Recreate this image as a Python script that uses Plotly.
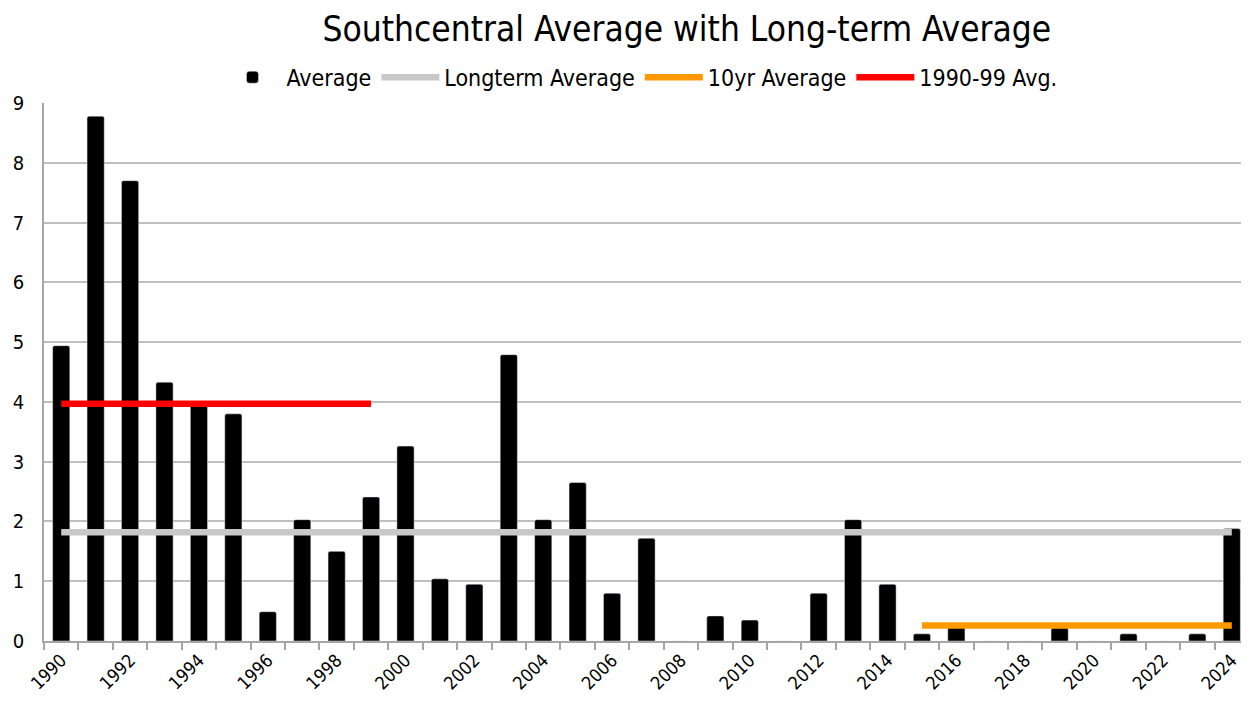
import plotly.graph_objects as go

YEARS = list(range(1990, 2025))
AVERAGE = [4.94, 8.78, 7.70, 4.33, 3.95, 3.80, 0.49, 2.03, 1.50, 2.41,
           3.26, 1.04, 0.95, 4.79, 2.03, 2.65, 0.80, 1.72, 0.0, 0.42,
           0.35, 0.0, 0.80, 2.03, 0.95, 0.12, 0.25, 0.0, 0.0, 0.22,
           0.0, 0.12, 0.0, 0.12, 1.88]
LONGTERM_AVG = 1.82
TENYR_YEARS = list(range(2015, 2025))
TENYR_AVG = 0.26
NINETIES_YEARS = list(range(1990, 2000))
NINETIES_AVG = 3.97
TICK_YEARS = list(range(1990, 2025, 2))

FONT = "Liberation Sans Narrow, DejaVu Sans Condensed, Roboto, sans-serif"

fig = go.Figure()
fig.add_trace(go.Bar(
    x=YEARS, y=AVERAGE,
    name="Average",
    width=0.5,
    marker=dict(color="black", cornerradius=2),
))
fig.add_trace(go.Scatter(
    x=YEARS, y=[LONGTERM_AVG] * len(YEARS),
    mode='lines',
    name="Longterm Average",
    line=dict(color="#c8c8c8", width=6.5),
))
fig.add_trace(go.Scatter(
    x=TENYR_YEARS, y=[TENYR_AVG] * len(TENYR_YEARS),
    mode='lines',
    name="10yr Average",
    line=dict(color="#ff9900", width=6.5),
))
fig.add_trace(go.Scatter(
    x=NINETIES_YEARS, y=[NINETIES_AVG] * len(NINETIES_YEARS),
    mode='lines',
    name="1990-99 Avg.",
    line=dict(color="#ff0000", width=6.5),
))

fig.update_traces(hoverinfo='skip')
# the page keeps its 8px body margin, so the figure is drawn 8px in
fig.update_layout(
    width=1241, height=700,
    margin={'l': 36, 'b': 67, 't': 95, 'r': 0},
    paper_bgcolor="white", plot_bgcolor="white",
    font=dict(family=FONT, color="black"),
    title=dict(text="Southcentral Average with Long-term Average",
               x=0.547, xanchor="center", y=0.971, yanchor="middle",
               font=dict(size=35, color="black")),
    legend=dict(orientation="h", x=0.495, xanchor="center",
                y=1.048, yanchor="middle",
                font=dict(size=23), itemwidth=58,
                traceorder="normal"),
    bargap=0.5,
    showlegend=True,
)
fig.update_xaxes(
    range=[YEARS[0] - 0.5, YEARS[-1] + 0.5],
    tickmode="array", tickvals=TICK_YEARS,
    ticktext=[str(y) for y in TICK_YEARS],
    tickangle=-45, ticks="", tickfont=dict(size=18),
    showgrid=False, zeroline=False,
    showline=True, linecolor="#a6a6a6", linewidth=1.5,
    minor=dict(tickvals=[y - 0.5 for y in YEARS] + [YEARS[-1] + 0.5],
               ticks="outside", ticklen=7, tickcolor="#a6a6a6",
               tickwidth=1.5, showgrid=False),
)
fig.update_yaxes(
    range=[0, 9], dtick=1,
    showgrid=True, gridcolor="#bfbfbf", gridwidth=1.5,
    zeroline=False,
    showline=True, linecolor="#a6a6a6", linewidth=1.5,
    tickfont=dict(size=20), ticklabelstandoff=14,
)

fig.write_html("out.html")
